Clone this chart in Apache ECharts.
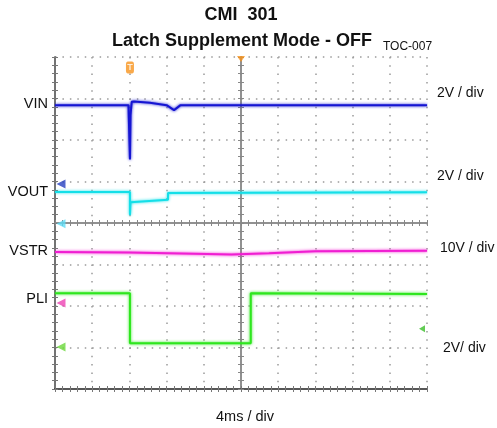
<!DOCTYPE html>
<html>
<head>
<meta charset="utf-8">
<script src="https://cdn.jsdelivr.net/npm/echarts@6/dist/echarts.min.js"></script>
<style>
html,body{margin:0;padding:0;background:#fff;}
#chart{width:497px;height:428px;}
</style>
</head>
<body>
<div id="chart"></div>
<script>
// ---- data (x: time in ms, 4 ms/div; y: screen divisions from bottom, 8 div) ----
const vinT  = [0, 7.9, 8.06, 8.12, 8.25, 8.5, 10.2, 12.0, 12.8, 13.5, 40];
const vinV  = [6.84, 6.84, 5.53, 6.6, 6.92, 6.93, 6.9, 6.84, 6.72, 6.84, 6.84];
const voutT = [0, 8.06, 8.06, 8.12, 8.25, 12.15, 12.15, 40];
const voutV = [4.75, 4.75, 4.19, 4.5, 4.54, 4.56, 4.72, 4.74];
const vstrT = [0, 8, 15, 19, 23, 28, 40];
const vstrV = [3.30, 3.29, 3.26, 3.24, 3.27, 3.32, 3.33];
const pliT  = [0, 8.06, 8.06, 21.05, 21.05, 40];
const pliV  = [2.31, 2.31, 1.10, 1.10, 2.31, 2.29];
const channelNames  = ['VIN', 'VOUT', 'VSTR', 'PLI'];
const channelScales = ['2V / div', '2V / div', '10V / div', '2V/ div'];
const groundLevels  = [4.94, 3.98, 2.07, 1.01];
const triggerTime   = 8.06;
const triggerLevel  = 1.45;
const xTicks = 4;   // ms per div
const xDivs = 10, yDivs = 8;

const traceColors  = ['#1515d2', '#14dfe8', '#f01ed2', '#2ee61e'];
const markerColors = ['#2440c0', '#5fdcf5', '#ee44b4', '#6ad83a'];

function zip(t, v) { return t.map((x, i) => [x, v[i]]); }

const FONT = "'Liberation Sans', Arial, sans-serif";
const chart = echarts.init(document.getElementById('chart'), null, {renderer: 'canvas'});

const xMax = xTicks * xDivs;
const hGridDash = [1.5, 37.2 / 5 - 1.5];
const vGridDash = [1.5, 41.5 / 5 - 1.5];

function ticks(inside, color) {
  return {
    axisTick: {show: true, inside: inside, length: 3, lineStyle: {color: color, width: 1}},
    minorTick: {show: true, splitNumber: 5, length: 3, lineStyle: {color: color, width: 1}}
  };
}
function xAx(extra) {
  return Object.assign({
    type: 'value', min: 0, max: xMax, interval: xTicks,
    axisLabel: {show: false},
    axisLine: {show: true, lineStyle: {color: '#6a6a6a', width: 1.5}},
    splitLine: {show: false}
  }, ticks(true, '#777'), extra);
}
function yAx(extra) {
  return Object.assign({
    type: 'value', min: 0, max: yDivs, interval: 1,
    axisLabel: {show: false},
    axisLine: {show: true, lineStyle: {color: '#6a6a6a', width: 1.5}},
    splitLine: {show: false}
  }, ticks(true, '#777'), extra);
}

const series = [];
const traces = [[vinT, vinV], [voutT, voutV], [vstrT, vstrV], [pliT, pliV]];
traces.forEach((tr, i) => {
  series.push({
    type: 'line', name: channelNames[i], data: zip(tr[0], tr[1]),
    showSymbol: false, symbol: 'none', animation: false, z: 5,
    lineStyle: {color: traceColors[i], width: 2, shadowColor: traceColors[i], shadowBlur: 3}
  });
});
// channel ground markers at left edge
series.push({
  type: 'scatter', animation: false, z: 6,
  data: groundLevels.map((g, i) => ({value: [0, g], itemStyle: {color: markerColors[i]}})),
  symbol: 'triangle', symbolRotate: 90, symbolSize: [9, 9], symbolOffset: [6, 0]
});
// trigger time marker
series.push({
  type: 'scatter', animation: false, z: 6,
  data: [[triggerTime, 7.75]],
  symbol: 'roundRect', symbolSize: [8, 12],
  itemStyle: {color: '#f7941d'},
  label: {show: true, position: 'inside', formatter: 'T', color: '#fff', fontSize: 9, fontWeight: 'bold', fontFamily: FONT}
});
// horizontal position marker at top centre
series.push({
  type: 'scatter', animation: false, z: 6,
  data: [[xMax / 2, yDivs]],
  symbol: 'triangle', symbolRotate: 180, symbolSize: [8, 6], symbolOffset: [0, 2],
  itemStyle: {color: '#f7941d'}
});
// trigger level marker on right edge
series.push({
  type: 'scatter', animation: false, z: 6,
  data: [[xMax, triggerLevel]],
  symbol: 'triangle', symbolRotate: 90, symbolSize: [7, 6], symbolOffset: [-5, 0],
  itemStyle: {color: '#3cbf2a'}
});

const graphics = [
  {type: 'text', x: 241, y: 15, style: {text: 'CMI  301', font: "bold 18px " + FONT, fill: '#111', textAlign: 'center', textVerticalAlign: 'middle'}},
  {type: 'text', x: 242, y: 41, style: {text: 'Latch Supplement Mode - OFF', font: "bold 18px " + FONT, fill: '#111', textAlign: 'center', textVerticalAlign: 'middle'}},
  {type: 'text', x: 383, y: 47, style: {text: 'TOC-007', font: "12px " + FONT, fill: '#111', textAlign: 'left', textVerticalAlign: 'middle'}},
  {type: 'text', x: 245, y: 417, style: {text: '4ms / div', font: "14.5px " + FONT, fill: '#111', textAlign: 'center', textVerticalAlign: 'middle'}}
];
const leftY = [104, 192, 251, 299];
channelNames.forEach((n, i) => graphics.push({type: 'text', x: 48, y: leftY[i],
  style: {text: n, font: "14.5px " + FONT, fill: '#111', textAlign: 'right', textVerticalAlign: 'middle'}}));
const rightPos = [[437, 93], [437, 176], [440, 248], [443, 348]];
channelScales.forEach((s, i) => graphics.push({type: 'text', x: rightPos[i][0], y: rightPos[i][1],
  style: {text: s, font: "14px " + FONT, fill: '#111', textAlign: 'left', textVerticalAlign: 'middle'}}));

chart.setOption({
  animation: false,
  backgroundColor: '#fff',
  grid: {left: 55, right: 70, top: 57, bottom: 39, containLabel: false},
  xAxis: [
    xAx({position: 'bottom', axisLine: {show: true, lineStyle: {color: '#222', width: 2}},
         splitLine: {show: true, lineStyle: {color: '#9a9a9a', width: 1.5, type: vGridDash}}}),
    xAx({position: 'top'}),
    xAx(Object.assign({position: 'bottom', offset: -166, axisLine: {show: true, lineStyle: {color: '#8a8a8a', width: 1.5}}}, ticks(true, '#888'))),
    xAx(Object.assign({position: 'bottom', offset: -166, axisLine: {show: true, lineStyle: {color: '#8a8a8a', width: 1.5}}}, ticks(false, '#888')))
  ],
  yAxis: [
    yAx({position: 'left',
         splitLine: {show: true, lineStyle: {color: '#9a9a9a', width: 1.5, type: hGridDash}}}),
    yAx({position: 'right'}),
    yAx(Object.assign({position: 'left', offset: -186, axisLine: {show: true, lineStyle: {color: '#8a8a8a', width: 1.5}}}, ticks(true, '#888'))),
    yAx(Object.assign({position: 'left', offset: -186, axisLine: {show: true, lineStyle: {color: '#8a8a8a', width: 1.5}}}, ticks(false, '#888')))
  ],
  series: series,
  graphic: graphics
});
</script>
</body>
</html>
